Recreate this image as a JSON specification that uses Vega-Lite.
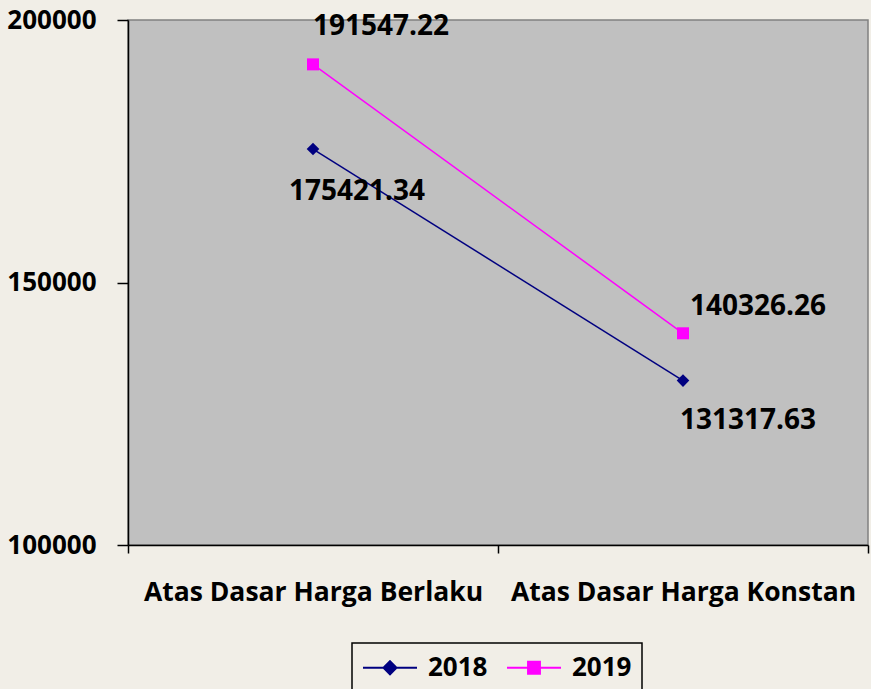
{
  "$schema": "https://vega.github.io/schema/vega-lite/v6.json",
  "width": 740,
  "height": 525,
  "autosize": {"type": "none"},
  "padding": {"left": 128, "top": 20, "right": 3, "bottom": 144},
  "background": "#f1eee7",
  "config": {
    "font": "Open Sans",
    "view": {"fill": "#c0c0c0", "stroke": "#808080", "strokeWidth": 1.5}
  },
  "data": {
    "values": [
      {"kategori": "Atas Dasar Harga Berlaku", "tahun": "2018", "nilai": 175421.34},
      {"kategori": "Atas Dasar Harga Konstan", "tahun": "2018", "nilai": 131317.63},
      {"kategori": "Atas Dasar Harga Berlaku", "tahun": "2019", "nilai": 191547.22},
      {"kategori": "Atas Dasar Harga Konstan", "tahun": "2019", "nilai": 140326.26}
    ]
  },
  "encoding": {
    "x": {
      "field": "kategori",
      "type": "nominal",
      "sort": null,
      "scale": {"type": "band", "paddingInner": 0, "paddingOuter": 0},
      "axis": {
        "title": null,
        "labelAngle": 0,
        "labelFontSize": 26.5,
        "labelFontWeight": "bold",
        "labelColor": "black",
        "labelLimit": 0,
        "labelPadding": 26,
        "tickBand": "extent",
        "tickSize": 8,
        "tickColor": "black",
        "tickWidth": 1.5,
        "domainColor": "black",
        "domainWidth": 1.5
      }
    },
    "y": {
      "field": "nilai",
      "type": "quantitative",
      "scale": {"domain": [100000, 200000], "nice": false},
      "axis": {
        "title": null,
        "values": [100000, 150000, 200000],
        "format": "d",
        "grid": false,
        "labelFontSize": 26,
        "labelFontWeight": "bold",
        "labelColor": "black",
        "labelPadding": 21,
        "tickSize": 11,
        "tickColor": "black",
        "tickWidth": 1.5,
        "domainColor": "black",
        "domainWidth": 1.5
      }
    },
    "color": {
      "field": "tahun",
      "type": "nominal",
      "scale": {"domain": ["2018", "2019"], "range": ["#000080", "#ff00ff"]},
      "legend": {
        "title": null,
        "orient": "none",
        "legendX": 224,
        "legendY": 623,
        "direction": "horizontal",
        "symbolSize": 729,
        "symbolStrokeWidth": 2,
        "labelFontSize": 26,
        "labelFontWeight": "bold",
        "labelColor": "black",
        "labelOffset": 37,
        "columnPadding": 15,
        "padding": 10,
        "strokeColor": "black",
        "encode": {
          "legend": {"update": {"strokeWidth": {"value": 1.5}}},
          "symbols": {
            "update": {
              "shape": {"signal": "datum.value === '2018' ? 'M-1,0L3,0M1,-0.48L1.48,0L1,0.48L0.52,0Z' : 'M-1,0L3,0M0.56,-0.44L1.44,-0.44L1.44,0.44L0.56,0.44Z'"},
              "fill": {"scale": "color", "field": "value"},
              "stroke": {"scale": "color", "field": "value"},
              "opacity": {"value": 1}
            }
          }
        }
      }
    }
  },
  "layer": [
    {"mark": {"type": "line", "strokeWidth": 1.5}},
    {
      "transform": [{"filter": "datum.tahun === '2018'"}],
      "mark": {"type": "point", "filled": true, "size": 160, "opacity": 1, "shape": "diamond"}
    },
    {
      "transform": [{"filter": "datum.tahun === '2019'"}],
      "mark": {"type": "point", "filled": true, "size": 144, "opacity": 1, "shape": "square"}
    },
    {
      "transform": [{"filter": "datum.tahun === '2019' && datum.kategori === 'Atas Dasar Harga Berlaku'"}],
      "mark": {"type": "text", "fontSize": 28, "fontWeight": "bold", "dx": 68, "dy": -37},
      "encoding": {"text": {"field": "nilai", "type": "quantitative", "format": ".2f"}, "color": {"value": "black"}}
    },
    {
      "transform": [{"filter": "datum.tahun === '2018' && datum.kategori === 'Atas Dasar Harga Berlaku'"}],
      "mark": {"type": "text", "fontSize": 28, "fontWeight": "bold", "dx": 44, "dy": 43},
      "encoding": {"text": {"field": "nilai", "type": "quantitative", "format": ".2f"}, "color": {"value": "black"}}
    },
    {
      "transform": [{"filter": "datum.tahun === '2019' && datum.kategori === 'Atas Dasar Harga Konstan'"}],
      "mark": {"type": "text", "fontSize": 28, "fontWeight": "bold", "dx": 75, "dy": -26},
      "encoding": {"text": {"field": "nilai", "type": "quantitative", "format": ".2f"}, "color": {"value": "black"}}
    },
    {
      "transform": [{"filter": "datum.tahun === '2018' && datum.kategori === 'Atas Dasar Harga Konstan'"}],
      "mark": {"type": "text", "fontSize": 28, "fontWeight": "bold", "dx": 65, "dy": 40},
      "encoding": {"text": {"field": "nilai", "type": "quantitative", "format": ".2f"}, "color": {"value": "black"}}
    }
  ]
}
